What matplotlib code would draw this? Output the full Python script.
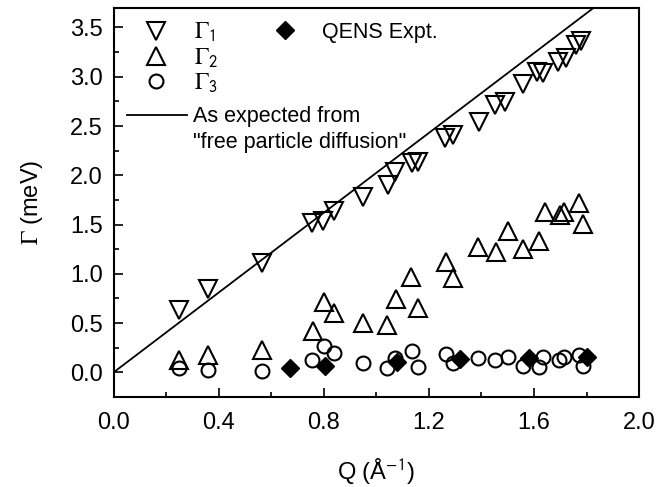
import matplotlib
matplotlib.use("Agg")
import matplotlib.pyplot as plt
from matplotlib.ticker import MultipleLocator, AutoMinorLocator
from matplotlib.lines import Line2D

plt.rcParams['font.family'] = ['Liberation Sans', 'DejaVu Sans']
plt.rcParams['mathtext.fontset'] = 'stix'

# Gamma_1 (down triangles)
q1 = [0.25, 0.36, 0.565, 0.755, 0.795, 0.84, 0.95, 1.045, 1.07, 1.135, 1.16,
      1.26, 1.29, 1.39, 1.45, 1.49, 1.56, 1.61, 1.635, 1.69, 1.72, 1.76, 1.78]
g1 = [0.63, 0.85, 1.11, 1.52, 1.54, 1.64, 1.78, 1.90, 2.03, 2.12, 2.13,
      2.38, 2.41, 2.54, 2.71, 2.74, 2.93, 3.05, 3.04, 3.15, 3.19, 3.32, 3.36]

# Gamma_2 (up triangles)
q2 = [0.25, 0.36, 0.565, 0.76, 0.80, 0.84, 0.95, 1.04, 1.075, 1.13, 1.16,
      1.265, 1.29, 1.385, 1.455, 1.50, 1.56, 1.62, 1.64, 1.70, 1.715, 1.77, 1.785]
g2 = [0.12, 0.18, 0.23, 0.42, 0.71, 0.60, 0.50, 0.48, 0.74, 0.97, 0.65,
      1.12, 0.96, 1.27, 1.22, 1.43, 1.25, 1.33, 1.63, 1.60, 1.63, 1.72, 1.51]

# Gamma_3 (circles)
q3 = [0.25, 0.36, 0.565, 0.755, 0.80, 0.84, 0.95, 1.04, 1.07, 1.135, 1.16,
      1.265, 1.29, 1.385, 1.45, 1.50, 1.56, 1.62, 1.635, 1.695, 1.715, 1.77, 1.785]
g3 = [0.04, 0.02, 0.01, 0.12, 0.27, 0.20, 0.09, 0.04, 0.15, 0.22, 0.05,
      0.19, 0.09, 0.15, 0.12, 0.16, 0.06, 0.05, 0.16, 0.12, 0.16, 0.18, 0.06]

# QENS experiment
q_exp = [0.67, 0.805, 1.08, 1.32, 1.58, 1.80]
g_exp = [0.04, 0.06, 0.10, 0.13, 0.15, 0.16]

# free particle diffusion line
line_q = [0.0, 2.0]
line_g = [0.0, 4.05]

fig = plt.figure(figsize=(6.65, 4.87), dpi=100)
ax = fig.add_axes([0.171, 0.185, 0.790, 0.799])

tri = dict(ls='none', ms=13, mfc='none', mec='black', mew=1.5)
circ = dict(ls='none', marker='o', ms=10, mfc='none', mec='black', mew=1.5)
dia = dict(ls='none', marker='D', ms=9, mfc='black', mec='black', mew=1)

ax.plot(line_q, line_g, color='black', lw=1.3)
ax.plot(q1, g1, marker='v', **tri)
ax.plot(q2, g2, marker='^', **tri)
ax.plot(q3, g3, **circ)
ax.plot(q_exp, g_exp, **dia)

ax.set_xlim(0, 2.0)
ax.set_ylim(-0.25, 3.7)
ax.xaxis.set_major_locator(MultipleLocator(0.4))
ax.xaxis.set_minor_locator(AutoMinorLocator(2))
ax.yaxis.set_major_locator(MultipleLocator(0.5))
ax.yaxis.set_minor_locator(AutoMinorLocator(2))
ax.tick_params(which='both', direction='in', top=False, right=False, width=1.2,
               labelsize=17)
ax.tick_params(axis='x', pad=11)
ax.tick_params(axis='y', pad=8)
ax.tick_params(which='major', length=6.5)
ax.tick_params(which='minor', length=3.6)
for sp in ax.spines.values():
    sp.set_linewidth(1.5)

ax.set_xlabel(r'Q (Å$^{\mathsf{-1}}$)', fontsize=17, labelpad=16)
ax.set_ylabel(r'$\Gamma$ (meV)', fontsize=17, labelpad=18)

# legend: Gamma entries
leg1 = ax.legend([Line2D([], [], marker='v', **tri),
                  Line2D([], [], marker='^', **tri),
                  Line2D([], [], **circ)],
                 [r'$\Gamma_\mathsf{1}$', r'$\Gamma_\mathsf{2}$', r'$\Gamma_\mathsf{3}$'],
                 loc='upper left', bbox_to_anchor=(0.018, 0.966), frameon=False,
                 fontsize=17, handlelength=2.75, handletextpad=0.25,
                 borderpad=0, borderaxespad=0, labelspacing=0.08)
ax.add_artist(leg1)

# legend: theory line
leg2 = ax.legend([Line2D([], [], color='black', lw=1.3)], ['As expected from'],
                 loc='center left', bbox_to_anchor=(0.025, 0.720), frameon=False,
                 fontsize=15.5, handlelength=2.8, handletextpad=0.25,
                 borderpad=0, borderaxespad=0)
ax.add_artist(leg2)

# legend: experiment
ax.legend([Line2D([], [], **dia)], ['QENS Expt.'], loc='upper left',
          bbox_to_anchor=(0.285, 0.964), frameon=False, fontsize=15.5,
          handlelength=2.0, handletextpad=0.7, borderpad=0, borderaxespad=0)

# second line of the theory label, under the first
fig.canvas.draw()
bb = leg2.get_texts()[0].get_window_extent()
x0, _ = ax.transAxes.inverted().transform((bb.x0, bb.y0))
ax.text(x0, 0.655, '"free particle diffusion"', transform=ax.transAxes,
        fontsize=15.5, ha='left', va='center')

fig.savefig('out.png', dpi=100)
